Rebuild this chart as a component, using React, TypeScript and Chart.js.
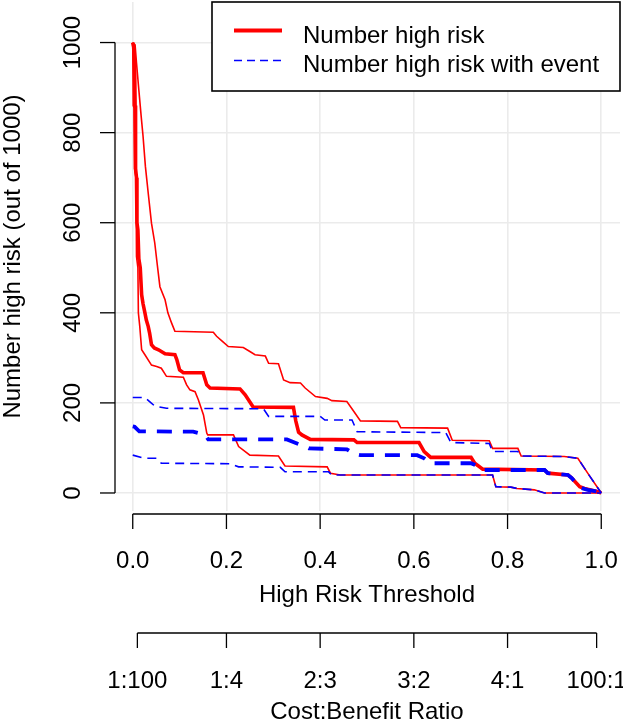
import { useEffect, useRef } from "react";
import { Chart, registerables } from "chart.js";

Chart.register(...registerables);

// Axis ticks and labels
const thresholdTicks = [0, 0.2, 0.4, 0.6, 0.8, 1.0];
const thresholdLabels = ["0.0", "0.2", "0.4", "0.6", "0.8", "1.0"];
const costBenefitTicks = [0.0099, 0.2, 0.4, 0.6, 0.8, 0.9901];
const costBenefitLabels = ["1:100", "1:4", "2:3", "3:2", "4:1", "100:1"];
const countTicks = [0, 200, 400, 600, 800, 1000];

// Number high risk (out of 1000) by threshold
const highRiskX = [0, 0.002, 0.004, 0.005, 0.006, 0.008, 0.009, 0.011, 0.013, 0.016, 0.019, 0.022, 0.026, 0.029, 0.033, 0.036, 0.040, 0.046, 0.055, 0.069, 0.090, 0.094, 0.100, 0.108, 0.150, 0.158, 0.165, 0.229, 0.240, 0.257, 0.343, 0.348, 0.354, 0.361, 0.379, 0.472, 0.479, 0.611, 0.622, 0.636, 0.722, 0.730, 0.747, 0.879, 0.886, 0.929, 0.937, 0.954, 0.964, 0.993, 1.0];
const highRiskY = [1000, 990, 950, 860, 720, 700, 600, 584, 520, 500, 440, 420, 400, 384, 370, 355, 329, 322, 318, 309, 307, 296, 273, 267, 267, 240, 233, 231, 218, 191, 190, 160, 135, 129, 119, 118, 112, 112, 92, 79, 79, 66, 53, 51, 44, 40, 33, 14, 10, 3, 0];

const highRiskUpperX = [0, 0.005, 0.008, 0.013, 0.018, 0.022, 0.027, 0.033, 0.040, 0.047, 0.052, 0.058, 0.069, 0.075, 0.083, 0.090, 0.172, 0.179, 0.192, 0.204, 0.236, 0.250, 0.261, 0.283, 0.290, 0.311, 0.322, 0.336, 0.358, 0.368, 0.390, 0.415, 0.425, 0.457, 0.472, 0.486, 0.565, 0.572, 0.672, 0.682, 0.761, 0.768, 0.822, 0.829, 0.921, 0.950, 0.975, 1.0];
const highRiskUpperY = [1000, 995, 955, 895, 836, 792, 725, 666, 599, 555, 510, 458, 429, 400, 377, 359, 357, 348, 336, 325, 323, 314, 307, 304, 288, 287, 251, 245, 244, 233, 214, 210, 205, 203, 181, 160, 159, 145, 144, 117, 116, 99, 99, 82, 81, 77, 38, 0];

const highRiskLowerX = [0, 0.001, 0.003, 0.004, 0.007, 0.008, 0.011, 0.012, 0.015, 0.019, 0.026, 0.040, 0.051, 0.061, 0.072, 0.108, 0.115, 0.122, 0.133, 0.140, 0.151, 0.158, 0.160, 0.215, 0.226, 0.250, 0.311, 0.325, 0.415, 0.422, 0.443, 0.768, 0.775, 0.807, 0.820, 0.857, 0.879, 1.0];
const highRiskLowerY = [1000, 860, 855, 720, 700, 525, 500, 400, 370, 318, 307, 284, 281, 277, 259, 257, 240, 229, 225, 207, 173, 133, 129, 129, 103, 84, 82, 60, 58, 44, 40, 40, 14, 13, 10, 7, 0, 0];

// Number high risk with event (out of 1000) by threshold
const eventX = [0, 0.004, 0.014, 0.129, 0.154, 0.161, 0.329, 0.358, 0.376, 0.457, 0.472, 0.486, 0.607, 0.622, 0.636, 0.722, 0.735, 0.747, 0.879, 0.886, 0.929, 0.937, 0.954, 0.971, 0.993, 1.0];
const eventY = [148, 147, 137, 136, 129, 119, 119, 107, 99, 97, 87, 84, 84, 77, 66, 66, 60, 51, 51, 44, 40, 33, 12, 7, 3, 0];

const eventUpperX = [0, 0.026, 0.036, 0.047, 0.072, 0.279, 0.290, 0.400, 0.410, 0.468, 0.479, 0.668, 0.679, 0.761, 0.768, 0.822, 0.829, 0.921, 0.950, 0.975, 1.0];
const eventUpperY = [212, 212, 203, 193, 188, 187, 170, 170, 162, 162, 136, 134, 112, 110, 92, 92, 82, 81, 77, 38, 0];

const eventLowerX = [0, 0.026, 0.051, 0.061, 0.208, 0.226, 0.315, 0.325, 0.418, 0.425, 0.768, 0.775, 0.807, 0.820, 0.857, 0.879, 1.0];
const eventLowerY = [84, 77, 77, 66, 65, 58, 57, 47, 47, 40, 40, 14, 13, 10, 7, 0, 0];

const RED = "#ff0000";
const BLUE = "#0000ff";
const FONT = "24px 'Liberation Sans', Arial, sans-serif";

const zip = (xs: number[], ys: number[]) => xs.map((x, i) => ({ x, y: ys[i] }));

// Legend entries with their sample line styles
const legendItems = [
  { label: "Number high risk", color: RED, width: 4, dash: [] as number[] },
  { label: "Number high risk with event", color: BLUE, width: 1.6, dash: [8, 5] },
];

const basePlotPlugin = {
  id: "basePlot",
  afterDraw(chart: any) {
    const ctx: CanvasRenderingContext2D = chart.ctx;
    const xs = chart.scales.x;
    const ys = chart.scales.y;
    const area = chart.chartArea;
    const seg = (x1: number, y1: number, x2: number, y2: number) => {
      ctx.beginPath();
      ctx.moveTo(x1, y1);
      ctx.lineTo(x2, y2);
      ctx.stroke();
    };
    ctx.save();
    ctx.strokeStyle = "#000";
    ctx.fillStyle = "#000";
    ctx.lineWidth = 1.3;
    ctx.setLineDash([]);
    ctx.font = FONT;

    // threshold axis
    const ax1 = area.bottom + 3;
    seg(xs.getPixelForValue(0), ax1, xs.getPixelForValue(1), ax1);
    ctx.textAlign = "center";
    ctx.textBaseline = "alphabetic";
    thresholdTicks.forEach((t, i) => {
      const px = xs.getPixelForValue(t);
      seg(px, ax1, px, ax1 + 15);
      ctx.fillText(thresholdLabels[i], px, area.bottom + 57);
    });
    const midX = (area.left + area.right) / 2;
    ctx.fillText("High Risk Threshold", midX, area.bottom + 91);

    // cost:benefit axis
    const ax2 = area.bottom + 122;
    seg(
      xs.getPixelForValue(costBenefitTicks[0]),
      ax2,
      xs.getPixelForValue(costBenefitTicks[costBenefitTicks.length - 1]),
      ax2
    );
    costBenefitTicks.forEach((t, i) => {
      const px = xs.getPixelForValue(t);
      seg(px, ax2, px, ax2 + 15);
      ctx.fillText(costBenefitLabels[i], px, area.bottom + 177);
    });
    ctx.fillText("Cost:Benefit Ratio", midX, area.bottom + 208);

    // count axis
    const axY = area.left + 1;
    seg(axY, ys.getPixelForValue(0), axY, ys.getPixelForValue(1000));
    countTicks.forEach((v) => {
      const py = ys.getPixelForValue(v);
      seg(axY - 15, py, axY, py);
      ctx.save();
      ctx.translate(axY - 35, py);
      ctx.rotate(-Math.PI / 2);
      ctx.fillText(String(v), 0, 0);
      ctx.restore();
    });
    ctx.save();
    ctx.translate(19.5, (area.top + area.bottom) / 2);
    ctx.rotate(-Math.PI / 2);
    ctx.fillText("Number high risk (out of 1000)", 0, 0);
    ctx.restore();

    // legend box in the top-right corner
    const boxW = 408;
    const boxH = 89;
    const bx = area.right - boxW;
    const by = area.top;
    ctx.fillStyle = "#fff";
    ctx.fillRect(bx, by, boxW, boxH);
    ctx.lineWidth = 1.6;
    ctx.strokeRect(bx, by, boxW, boxH);
    ctx.textAlign = "left";
    ctx.fillStyle = "#000";
    legendItems.forEach((item, i) => {
      const ly = by + 28.5 + i * 30;
      ctx.strokeStyle = item.color;
      ctx.lineWidth = item.width;
      ctx.setLineDash(item.dash);
      seg(bx + 22, ly, bx + 70, ly);
      ctx.setLineDash([]);
      ctx.fillText(item.label, bx + 91, by + 41 + i * 29);
    });
    ctx.restore();
  },
};

export default function App() {
  const canvasRef = useRef<HTMLCanvasElement | null>(null);

  useEffect(() => {
    document.body.style.margin = "0";
    const canvas = canvasRef.current;
    if (!canvas) return;

    const thinRed = { borderColor: RED, borderWidth: 1.6, pointRadius: 0, tension: 0, fill: false };
    const thinBlue = { borderColor: BLUE, borderWidth: 1.6, borderDash: [9, 6], pointRadius: 0, tension: 0, fill: false };

    const chart = new Chart(canvas, {
      type: "line",
      data: {
        datasets: [
          { label: "Number high risk with event", data: zip(eventX, eventY), borderColor: BLUE, borderWidth: 3.8, borderDash: [15, 11], pointRadius: 0, tension: 0, fill: false },
          { label: "event upper", data: zip(eventUpperX, eventUpperY), ...thinBlue },
          { label: "event lower", data: zip(eventLowerX, eventLowerY), ...thinBlue },
          { label: "Number high risk", data: zip(highRiskX, highRiskY), borderColor: RED, borderWidth: 3.6, pointRadius: 0, tension: 0, fill: false },
          { label: "high risk upper", data: zip(highRiskUpperX, highRiskUpperY), ...thinRed },
          { label: "high risk lower", data: zip(highRiskLowerX, highRiskLowerY), ...thinRed },
        ],
      },
      options: {
        responsive: false,
        animation: false,
        devicePixelRatio: 1,
        layout: { padding: { left: 114, right: 3, top: 2, bottom: 210 } },
        plugins: { legend: { display: false }, tooltip: { enabled: false } },
        scales: {
          x: {
            type: "linear",
            min: -0.04,
            max: 1.04,
            afterBuildTicks: (s: any) => {
              s.ticks = thresholdTicks.map((value) => ({ value }));
            },
            ticks: { display: false },
            grid: { color: "#ebebeb", lineWidth: 1.6, drawTicks: false },
            border: { display: false },
          },
          y: {
            type: "linear",
            min: -40,
            max: 1090,
            afterBuildTicks: (s: any) => {
              s.ticks = countTicks.map((value) => ({ value }));
            },
            ticks: { display: false },
            grid: { color: "#ebebeb", lineWidth: 1.6, drawTicks: false },
            border: { display: false },
          },
        },
      },
      plugins: [basePlotPlugin],
    } as any);

    return () => chart.destroy();
  }, []);

  return (
    <div style={{ width: 623, height: 721, background: "#fff" }}>
      <canvas ref={canvasRef} width={623} height={721} style={{ display: "block" }} />
    </div>
  );
}
